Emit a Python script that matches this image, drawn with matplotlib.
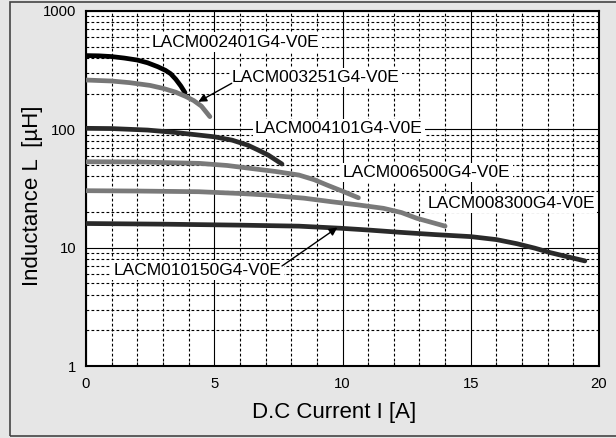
import numpy as np
import matplotlib.pyplot as plt
from matplotlib.patches import Rectangle

plt.rcParams['font.family'] = ['Liberation Sans', 'DejaVu Sans']

# inductance vs DC current
i_2401 = [0, 0.5, 1.0, 1.5, 2.0, 2.4, 2.8, 3.1, 3.3, 3.5, 3.7, 3.86]
l_2401 = [420, 418, 412, 400, 385, 365, 338, 315, 295, 265, 232, 204]

i_3251 = [0, 1.0, 1.7, 2.5, 3.0, 3.5, 3.9, 4.2, 4.5, 4.83]
l_3251 = [261, 256, 248, 235, 222, 206, 189, 175, 157, 128]

i_4101 = [0, 1.0, 2.4, 3.5, 5.0, 5.7, 6.3, 6.7, 7.1, 7.64]
l_4101 = [102, 101.5, 98.6, 94, 86.5, 81, 73.6, 67, 60.7, 50.9]

i_6500 = [0, 2.0, 4.4, 5.5, 6.4, 7.4, 8.3, 8.9, 9.4, 10.0, 10.62]
l_6500 = [53.2, 53, 51.6, 49.5, 46.8, 44, 41.1, 37.5, 33.8, 30, 26.4]

i_8300 = [0, 2.0, 4.4, 6.0, 7.0, 8.5, 9.6, 10.6, 11.6, 12.3, 12.9, 13.5, 14.0]
l_8300 = [30.3, 30.1, 29.7, 28.7, 27.9, 26.2, 24.4, 23, 21.5, 19.8, 17.7, 16.3, 15.2]

i_10150 = [0, 3.0, 6.0, 8.3, 9.9, 11.0, 12.2, 13.6, 15.0, 16.0, 16.8, 17.5, 18.1, 18.8, 19.45]
l_10150 = [16.0, 15.8, 15.5, 15.2, 14.6, 14.1, 13.5, 12.9, 12.4, 11.7, 10.8, 9.9, 9.08, 8.35, 7.73]

x_ticks = [0, 5, 10, 15, 20]
y_ticks = [1, 10, 100, 1000]
y_labels = ["1", "10", "100", "1000"]

bg = "#e6e6e6"
fig = plt.figure(figsize=(6.16, 4.38), dpi=100, facecolor=bg)
ax = fig.add_axes([86 / 616, 1 - 366 / 438, 513 / 616, 355 / 438])
ax.set_facecolor("white")

# frame round the figure (right side runs off the picture)
fig.patches.append(Rectangle((10 / 616, 2 / 438), 1.0, 434 / 438,
                             transform=fig.transFigure, fill=False,
                             edgecolor="#444444", linewidth=1.2))

ax.set_yscale("log")
ax.set_xlim(0, 20)
ax.set_ylim(1, 1000)

ax.set_xticks(x_ticks)
ax.set_xticks(np.arange(0, 21, 1), minor=True)
ax.set_yticks(y_ticks)
ax.set_yticklabels(y_labels)
ax.grid(True, which="major", color="black", linewidth=0.8, linestyle="-")
ax.grid(True, which="minor", color="black", linewidth=0.8, linestyle=(0, (2.5, 2)))
ax.tick_params(which="major", direction="in", length=0, labelsize=10.7)
ax.tick_params(axis="x", which="major", pad=8)
ax.tick_params(axis="y", which="major", pad=7)
ax.tick_params(which="minor", direction="in", length=3, width=0.8)
ax.tick_params(axis="y", which="minor", length=0)
ax.yaxis.set_minor_formatter(plt.NullFormatter())
for s in ax.spines.values():
    s.set_linewidth(1.5)

lw = 3.4
ax.plot(i_2401, l_2401, color="#000000", lw=lw, solid_capstyle="round", zorder=3)
ax.plot(i_3251, l_3251, color="#777777", lw=lw, solid_capstyle="round", zorder=3)
ax.plot(i_4101, l_4101, color="#2a2a2a", lw=lw, solid_capstyle="round", zorder=3)
ax.plot(i_6500, l_6500, color="#7a7a7a", lw=lw, solid_capstyle="round", zorder=3)
ax.plot(i_8300, l_8300, color="#7a7a7a", lw=lw, solid_capstyle="round", zorder=3)
ax.plot(i_10150, l_10150, color="#2a2a2a", lw=lw, solid_capstyle="round", zorder=3)

box = dict(facecolor="white", edgecolor="none", pad=1.5)
arrow = dict(arrowstyle="-|>", color="black", lw=1, mutation_scale=12,
             shrinkA=0, shrinkB=0)
fs = 12.5
ax.text(2.57, 547, "LACM002401G4-V0E", fontsize=fs, ha="left", va="center", bbox=box, zorder=4)
ax.text(5.69, 272, "LACM003251G4-V0E", fontsize=fs, ha="left", va="center", bbox=box, zorder=4)
ax.annotate("", xy=(4.38, 171), xytext=(5.68, 245), arrowprops=arrow, zorder=5)
ax.text(6.59, 100.7, "LACM004101G4-V0E", fontsize=fs, ha="left", va="center", bbox=box, zorder=4)
ax.text(10.02, 43.5, "LACM006500G4-V0E", fontsize=fs, ha="left", va="center", bbox=box, zorder=4)
ax.text(13.3, 23.5, "LACM008300G4-V0E", fontsize=fs, ha="left", va="center", bbox=box, zorder=4)
ax.text(7.62, 6.47, "LACM010150G4-V0E", fontsize=fs, ha="right", va="center", bbox=box, zorder=4)
ax.annotate("", xy=(9.8, 14.8), xytext=(7.64, 7.0), arrowprops=arrow, zorder=5)

ax.set_xlabel("D.C Current I [A]", fontsize=16, labelpad=8)
ax.xaxis.label.set_x(0.484)
ax.set_ylabel("Inductance L  [\u00b5H]", fontsize=16, labelpad=0)
ax.yaxis.label.set_y(0.48)

fig.savefig("out.png", dpi=100, facecolor=bg)
